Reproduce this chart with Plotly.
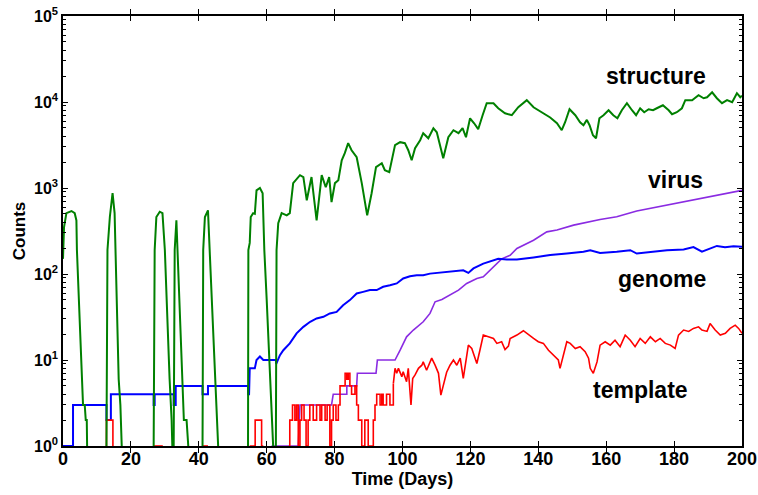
import math
import plotly.graph_objects as go

# ---------------- data ----------------
# structure (green) - separate bursts joined by gaps (None = zero count)
structure_days = [
    0, 0.3, 1.0, 2.0, 2.5, 3.45, 3.95, 4.1, 5.9, 6.4, 6.7, 7.0, 7.1, None,
    12.8, 13.1, 13.8, 14.6, 15.2, 15.5, 16.4, 16.9, 17.1, 17.3, None,
    26.7, 27.0, 27.5, 28.5, 29.3, 29.7, 30.0, 31.4, 31.9, 32.0, 32.2, None,
    32.6, 32.9, 33.4, 33.7, 35.2, 35.6, 36.4, 36.9, None,
    41.1, 41.3, 41.8, 42.7, 43.2, 44.9, 45.4, 45.7, None,
    54.5, 54.6, 55.0, 55.3, 56.0, 56.5, 57.0, 58.0, 58.8, 59.3, 60.0, 61.4, 61.9, None,
    62.7, 62.9, 63.4, 64.4, 65.9, 66.8, 67.8, 69.8, 70.8, 71.8, 73.2, 74.7, 76.2, 77.4,
    78.4, 79.1, 80.1, 81.1, 82.1, 83.0, 84.0, 85.0, 86.5, 88.0, 89.6, 90.9, 92.2, 93.9,
    94.8, 96.1, 97.8, 99.3, 100.7, 101.7, 102.7, 103.7, 105.2, 106.1, 107.6, 109.1,
    110.1, 111.3, 112.0, 113.5, 115.0, 116.5, 117.7, 118.7, 119.9, 121.1, 122.3, 123.6,
    124.8, 126.8, 128.2, 130.2, 132.2, 134.1, 136.6, 138.6, 141.0, 143.5, 145.5, 146.9,
    147.9, 149.2, 150.9, 152.3, 153.3, 154.3, 155.1, 156.1, 157.0, 158.0, 159.2, 160.7,
    162.1, 163.3, 164.6, 166.1, 167.6, 168.8, 170.0, 171.2, 172.5, 173.8, 174.9, 176.7,
    178.4, 179.4, 180.8, 182.3, 183.3, 185.3, 187.2, 188.7, 189.7, 191.2, 192.6, 194.1,
    195.6, 197.1, 198.5, 199.5, 200,
]
structure_counts = [
    150, 350, 510, 530, 540, 510, 420, 190, 3, 3, 2, 2, 1, None,
    1, 190, 460, 870, 510, 190, 6, 3, 2, 1, None,
    1, 190, 460, 530, 510, 300, 190, 6, 3, 2, 1, None,
    1, 190, 420, 190, 5, 2, 2, 1, None,
    1, 190, 460, 550, 190, 5, 2, 1, None,
    1, 190, 230, 460, 510, 500, 940, 1000, 870, 190, 50, 2, 1, None,
    1, 190, 390, 510, 480, 510, 1140, 1410, 1340, 720, 1340, 420, 1410, 1020,
    1340, 685, 1140, 1230, 2100, 2540, 3320, 2750, 2280, 1140, 480, 870, 1750, 1940,
    1610, 1530, 3150, 3410, 3320, 2750, 2100, 2900, 3600, 4340, 3790, 4960,
    4450, 2980, 2220, 3890, 4700, 4340, 4960, 3890, 6470, 5660, 4830, 7020,
    9680, 9680, 8460, 7400, 7020, 8690, 10500, 8690, 7600, 6600, 5660, 4700,
    5820, 8240, 7020, 5820, 5370, 6200, 5370, 4110, 3790, 6470, 7020, 8020,
    7020, 6470, 8020, 9680, 8020, 7020, 8460, 7600, 8240, 8020, 8460, 9170,
    8020, 7210, 7600, 8460, 10500, 10500, 12000, 11060, 11360, 12980, 11060, 9680,
    10500, 9940, 12650, 11360, 11800,
]

# genome (blue)
genome_days = [
    0, 2.95, 2.95, 12.8, 12.8, 14.1, 14.1, 26.7, 26.7, 27.0, 27.0, 32.6, 32.6, 33.2, 33.2,
    41.1, 41.1, 42.7, 42.7, 54.5, 54.5, 54.8, 55.0, 56.5, 57.0, 58.0, 59.0, 62.7, 62.8,
    63.9, 64.9, 66.8, 68.8, 70.8, 72.8, 74.7, 76.7, 78.6, 80.6, 82.5, 84.5, 86.5, 88.4,
    90.4, 92.4, 94.3, 96.3, 98.3, 100.2, 102.2, 104.2, 106.1, 108.1, 110.1, 112.0, 114.0,
    117.9, 119.4, 120.9, 123.8, 125.8, 128.2, 130.7, 133.7, 138.6, 143.5, 148.4, 153.3,
    155.3, 158.2, 163.1, 167.1, 169.0, 173.0, 177.9, 182.8, 185.7, 188.2, 190.6, 192.6,
    195.0, 197.5, 200,
]
genome_counts = [
    1, 1, 3, 3, 2, 2, 4, 4, 3, 3, 4, 4, 3, 3, 5,
    5, 4, 4, 5, 5, 4, 4, 8, 8, 10, 11, 10, 10, 9,
    11.4, 13, 15.6, 20.4, 24.3, 27.8, 30.4, 31.8, 34.8, 36.3, 43.3, 49.7, 59.3, 62,
    65, 65, 71, 74, 77.7, 88.7, 94, 96.6, 97, 101, 103, 105.5, 108,
    110.5, 103, 116, 132, 141, 150, 147, 147, 156, 166, 173, 181,
    189, 176, 181, 189, 173, 181, 189, 193, 206, 182, 198, 212,
    205, 210, 208,
]

# virus (purple)
virus_days = [
    61.4, 69.3, 69.8, 79.1, 79.6, 83.6, 83.6, 86.5, 86.7, 92.2, 92.6, 97.8, 99.3, 101.2,
    103.2, 106.1, 108.1, 109.6, 111.6, 114.0, 116.5, 118.9, 121.9, 123.8, 125.8, 127.8,
    129.2, 131.7, 133.7, 138.6, 142.5, 145.5, 150.4, 158.2, 163.1, 169.0, 173.0, 177.9,
    182.8, 187.7, 192.6, 197.5, 200,
]
virus_counts = [
    1, 1, 3, 3, 4, 4, 5, 5, 7, 7, 10, 10, 13, 18.6,
    22.3, 27.8, 34.8, 47.5, 50.6, 56.9, 65, 77.7, 88.7, 92.6, 110.5, 132,
    150, 165, 198, 247, 309, 324, 370, 430, 464, 540, 580, 630,
    690, 750, 820, 900, 940,
]

# template (red): integer-count steps early on ...
template_step_days = [
    12.8, 12.8, 14.7, None,
    26.7, 29.4, None,
    41.1, 42.7, None,
    55.0, 56.6, 58.5, 59.0, None,
    66.5, 66.8, 67.6, 68.3, 68.8, 69.3, 69.8, 70.3, 71.0, 71.6, 72.2, 72.7, 73.7, 74.7,
    75.7, 76.2, 77.2, 77.8, 78.6, 79.1, 79.6, 80.4, 81.1, 81.6, 83.1, 83.6, 84.0, 84.5,
    85.0, 86.0, 86.5, 87.0, 88.0, 88.9, 89.9, 91.4, 91.9, 92.4, 93.4, 93.9, 94.3, 95.3,
    96.3, 97.3,
]
template_step_counts = [
    1, 2, 1, None,
    1, 1, None,
    1, 1, None,
    1, 2, 1, 1, None,
    1, 2, 3, 2, 3, 1, 2, 3, 2, 1, 2, 3, 2, 3,
    2, 3, 2, 3, 1, 2, 3, 2, 3, 5, 7, 6, 7, 5,
    4, 5, 3, 2, 1, 2, 1, 2, 3, 4, 3, 4, 3, 4,
    3, 5.3,
]
# ... and a noisy trace afterwards
template_days = [
    97.3, 97.8, 98.3, 98.8, 99.8, 100.2, 101.2, 101.7, 102.5, 103.0, 103.7, 104.7,
    105.7, 106.1, 107.1, 108.6, 109.6, 110.6, 111.3, 112.0, 113.0, 114.0, 115.0, 116.0,
    117.0, 117.9, 119.4, 120.4, 121.9, 122.8, 123.8, 125.3, 126.8, 127.8, 129.2, 130.2,
    131.2, 131.7, 133.7, 135.6, 137.1, 138.6, 140.0, 141.5, 143.0, 144.5, 145.9, 146.4,
    147.4, 148.4, 149.4, 150.9, 152.3, 153.8, 154.8, 155.3, 156.2, 157.3, 158.2, 159.7,
    161.2, 162.6, 164.1, 165.6, 167.1, 168.5, 170.0, 171.5, 173.0, 174.5, 175.9, 177.4,
    178.9, 180.3, 181.3, 182.8, 184.3, 185.7, 187.2, 188.2, 189.7, 190.6, 192.1, 193.6,
    195.1, 196.5, 198.0, 199.0, 200,
]
template_counts = [
    5.3, 8, 7, 8, 6.4, 7.3, 5.6, 8, 3, 6.1, 6.7, 8,
    8.7, 9.5, 7.6, 10.5, 8.7, 7, 3.9, 4.9, 7.2, 8.7, 10, 8.7,
    10.5, 6.1, 14.9, 13.6, 9.1, 13, 19.5, 18.6, 17.8, 15.6, 16.3, 13.2,
    14.5, 17.8, 19.5, 21.9, 19.5, 17.8, 16.3, 15.6, 13, 11.4, 10, 8,
    11.9, 16.3, 15.6, 13.6, 14.3, 12.5, 10.5, 8, 7, 9.5, 14.9, 16.3,
    14.9, 17, 14.3, 19.5, 17, 14.3, 17.8, 15.6, 18.6, 16.3, 17.8, 15.6,
    14.9, 13.6, 19.5, 22.3, 21.5, 23.3, 24.3, 22.3, 21.5, 26.5, 22.3, 19.5,
    20.4, 23.3, 25.4, 23.3, 20.4,
]

y_tickvals = [1, 10, 100, 1000, 10000, 100000]
y_ticktext = ["10<sup>0</sup>", "10<sup>1</sup>", "10<sup>2</sup>",
              "10<sup>3</sup>", "10<sup>4</sup>", "10<sup>5</sup>"]
x_tickvals = [0, 20, 40, 60, 80, 100, 120, 140, 160, 180, 200]

labels = ["structure", "virus", "genome", "template"]
label_x = [174.6, 180.5, 176.4, 170.2]
label_y = [20000, 1230, 87, 4.5]

# ---------------- figure ----------------
FONT = "Liberation Sans, Arial, Helvetica, sans-serif"

fig = go.Figure()
fig.add_trace(go.Scatter(x=virus_days, y=virus_counts, mode="lines",
                         line=dict(color="#8A2BE2", width=1.6), connectgaps=False))
fig.add_trace(go.Scatter(x=genome_days, y=genome_counts, mode="lines",
                         line=dict(color="#0000FF", width=2), connectgaps=False))
fig.add_trace(go.Scatter(x=template_step_days, y=template_step_counts, mode="lines",
                         line=dict(color="#FF0000", width=1.6, shape="hv"), connectgaps=False))
fig.add_trace(go.Scatter(x=template_days, y=template_counts, mode="lines",
                         line=dict(color="#FF0000", width=1.6), connectgaps=False))
fig.add_trace(go.Scatter(x=structure_days, y=structure_counts, mode="lines",
                         line=dict(color="#008000", width=2), connectgaps=False))
# empty trace that carries the minor-tick axis
fig.add_trace(go.Scatter(x=[], y=[], yaxis="y2", mode="lines", showlegend=False,
                         hoverinfo="skip"))

for t, x, y in zip(labels, label_x, label_y):
    fig.add_annotation(x=x, y=math.log10(y), text=t,
                       showarrow=False, xanchor="center", yanchor="middle",
                       font=dict(family=FONT, size=23, color="black", weight="bold"))

fig.update_layout(
    width=758, height=495,
    margin=dict(l=63, r=16, t=16, b=49, autoexpand=False),
    plot_bgcolor="white", paper_bgcolor="white",
    showlegend=False,
    font=dict(family=FONT, color="black"),
    yaxis2=dict(
        type="log", range=[0, 5], overlaying="y", side="left", dtick="D1",
        ticks="inside", ticklen=3, tickwidth=1, tickcolor="black",
        mirror="allticks", showline=False, showticklabels=False,
        showgrid=False, zeroline=False, automargin=False,
    ),
)
fig.update_xaxes(
    range=[0, 200], tickvals=x_tickvals, ticks="inside", ticklen=5, tickwidth=1,
    tickcolor="black", mirror="allticks", showline=True, linecolor="black", linewidth=1.5,
    showgrid=False, zeroline=False, layer="below traces", automargin=False,
    ticklabelstandoff=-4,
    tickfont=dict(family=FONT, size=18, weight="bold", color="black"),
    title=dict(text="Time (Days)", font=dict(family=FONT, size=18, weight="bold"), standoff=0),
)
fig.update_yaxes(
    selector=dict(overlaying=None),
    type="log", range=[0, 5], tickvals=y_tickvals, ticktext=y_ticktext,
    ticks="inside", ticklen=5, tickwidth=1, tickcolor="black",
    mirror="allticks", showline=True, linecolor="black", linewidth=1.5,
    showgrid=False, zeroline=False, layer="below traces", automargin=False,
    tickfont=dict(family=FONT, size=16, weight="bold", color="black"),
    title=dict(text="Counts", font=dict(family=FONT, size=17, weight="bold"), standoff=4),
)

fig.write_html("out.html", config={"displayModeBar": False},
               post_script="document.body.style.margin='0';document.body.style.padding='0';")
